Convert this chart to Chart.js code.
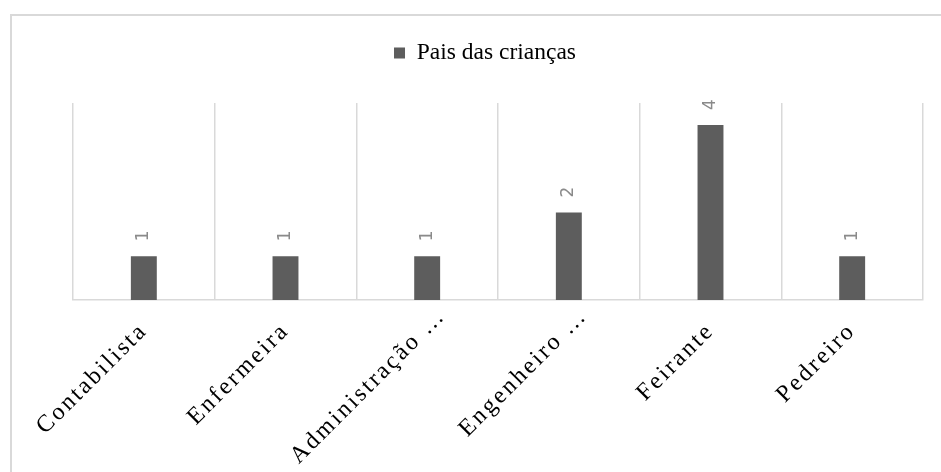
<!DOCTYPE html>
<html lang="pt">
<head>
<meta charset="utf-8">
<title>Pais das crianças</title>
<script src="https://cdn.jsdelivr.net/npm/chart.js@4.4.1/dist/chart.umd.min.js"></script>
<style>
  html, body { margin: 0; padding: 0; background: #ffffff; overflow: hidden; }
  #stage { position: relative; width: 941px; height: 472px; overflow: hidden; }
  #frame {
    position: absolute; left: 10px; top: 14px; width: 1200px; height: 1200px;
    border-left: 2px solid #d9d9d9; border-top: 2px solid #d9d9d9; box-sizing: border-box;
  }
  #chart { position: absolute; left: 0; top: 0; }
</style>
</head>
<body>
<div id="stage">
  <div id="frame"></div>
  <canvas id="chart" width="941" height="472"></canvas>
</div>
<script>
// Profissões dos pais e número de crianças em cada uma
const categories = ['Contabilista', 'Enfermeira', 'Administração …', 'Engenheiro …', 'Feirante', 'Pedreiro'];
const seriesName = 'Pais das crianças';
const seriesValues = [1, 1, 1, 2, 4, 1];

const BAR_COLOR = '#5d5d5d';
const GRID_COLOR = '#d9d9d9';
const SERIF = '"Liberation Serif", "Times New Roman", serif';
const TRUNCATED_SHIFT = 21; // truncated category names sit further out along their slant

// Rotated value labels above each bar
const barValueLabels = {
  id: 'barValueLabels',
  afterDatasetsDraw(chart) {
    const ctx = chart.ctx;
    chart.data.datasets.forEach((ds, di) => {
      const meta = chart.getDatasetMeta(di);
      meta.data.forEach((bar, i) => {
        ctx.save();
        ctx.translate(bar.x, bar.y - 15);
        ctx.rotate(-Math.PI / 2);
        ctx.font = '17px "DejaVu Sans", sans-serif';
        ctx.fillStyle = '#8a8a8a';
        ctx.textAlign = 'left';
        ctx.textBaseline = 'middle';
        ctx.fillText(String(ds.data[i]), 0, 0);
        ctx.restore();
      });
    });
  }
};

// Wider character spacing for the category labels; truncated names nudged outward
const spacedTicks = {
  id: 'spacedTicks',
  beforeDraw(chart) {
    const s = chart.scales.x;
    if (s && !s.__spaced) {
      const base = s.drawLabels;
      s.drawLabels = function (area) {
        const items = this.getLabelItems(area);
        items.forEach((it) => {
          if (!it.__nudged && /…$/.test(String(it.label))) {
            const [tx, ty] = it.options.translation;
            const a = it.options.rotation;
            it.options.translation = [tx + TRUNCATED_SHIFT * Math.cos(a), ty + TRUNCATED_SHIFT * Math.sin(a)];
            it.__nudged = true;
          }
        });
        const c = this.ctx;
        c.save();
        c.letterSpacing = '2.5px';
        base.call(this, area);
        c.restore();
      };
      s.__spaced = true;
    }
  }
};

new Chart(document.getElementById('chart'), {
  type: 'bar',
  data: {
    labels: categories,
    datasets: [{
      label: seriesName,
      data: seriesValues,
      backgroundColor: BAR_COLOR,
      borderWidth: 0,
      categoryPercentage: 1,
      barPercentage: 0.183
    }]
  },
  options: {
    responsive: false,
    devicePixelRatio: 1,
    animation: false,
    layout: { padding: { left: 47, right: 18, top: 31.25, bottom: 0 } },
    plugins: {
      legend: {
        display: true,
        position: 'top',
        labels: {
          boxWidth: 11,
          boxHeight: 11,
          padding: 10,
          color: '#000000',
          font: { family: SERIF, size: 23.5 }
        }
      },
      tooltip: { enabled: false }
    },
    scales: {
      x: {
        position: 'bottom',
        grid: { display: true, color: GRID_COLOR, lineWidth: 1.5, drawTicks: false, offset: true },
        border: { display: true, color: GRID_COLOR, width: 1.5 },
        ticks: {
          autoSkip: false,
          minRotation: 45,
          maxRotation: 45,
          padding: 17,
          color: '#000000',
          font: { family: SERIF, size: 24 }
        },
        afterFit(scale) { scale.height = 172; }
      },
      xTop: {
        type: 'category',
        position: 'top',
        display: true,
        grid: { display: false },
        border: { display: false },
        ticks: { display: false },
        afterFit(scale) { scale.height = 28.25; }
      },
      y: {
        min: 0,
        max: 4.5,
        display: true,
        grid: { display: false },
        border: { display: false },
        ticks: { display: false },
        afterFit(scale) { scale.width = 26; }
      }
    }
  },
  plugins: [barValueLabels, spacedTicks]
});
</script>
</body>
</html>
